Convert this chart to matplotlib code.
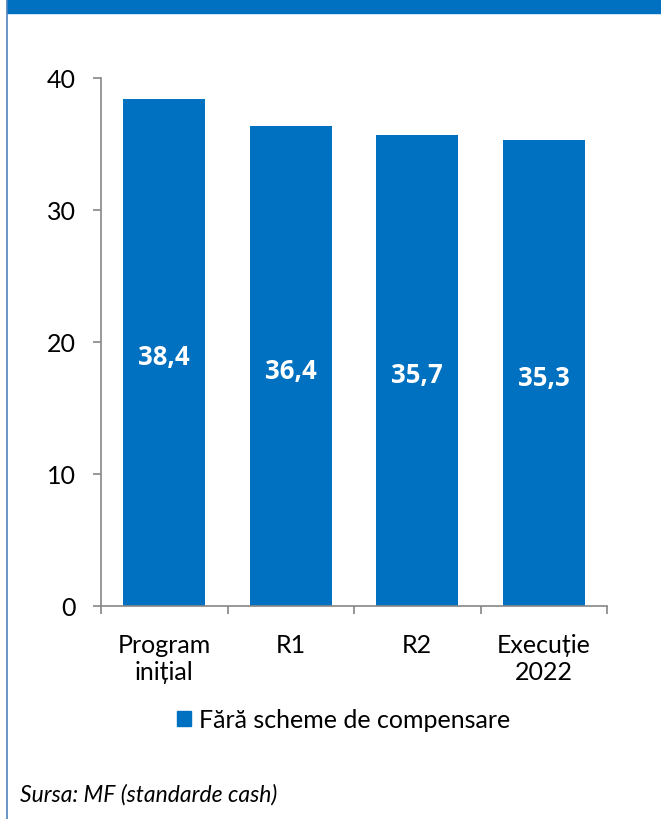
import matplotlib
matplotlib.use("Agg")
import matplotlib.pyplot as plt
from matplotlib.patches import Rectangle
from matplotlib.lines import Line2D

categories = ["Program\ninițial", "R1", "R2", "Execuție\n2022"]
values = [38.4, 36.4, 35.7, 35.3]
value_labels = ["38,4", "36,4", "35,7", "35,3"]
y_ticks = [0, 10, 20, 30, 40]
series_name = "Fără scheme de compensare"
source_text = "Sursa: MF (standarde cash)"

BLUE = "#0070C0"
GRAY = "#868686"
FONT = ["Lato", "DejaVu Sans"]
BOLD_FONT = ["Open Sans", "DejaVu Sans"]

W, H = 661, 819
fig = plt.figure(figsize=(W / 100, H / 100), dpi=100)

# header band and left frame line
fig.patches.append(Rectangle((7 / W, 1 - 13 / H), 1 - 7 / W, 13 / H,
                             transform=fig.transFigure, color=BLUE, zorder=0))
fig.lines.append(Line2D([6.5 / W, 6.5 / W], [0, 1], transform=fig.transFigure,
                        color="#4F81BD", lw=1.2))

x0, x1 = 101, 607
y0, y1 = 606, 78
ax = fig.add_axes([x0 / W, 1 - y0 / H, (x1 - x0) / W, (y0 - y1) / H])

pos = list(range(len(categories)))
ax.bar(pos, values, width=0.65, color=BLUE, zorder=2)
for p, v, lab in zip(pos, values, value_labels):
    ax.text(p, v / 2 - 0.4, lab, ha="center", va="center", color="white",
            fontsize=18.5, fontweight="bold", family=BOLD_FONT)

ax.set_xlim(-0.5, len(categories) - 0.5)
ax.set_ylim(0, 40)
ax.set_yticks(y_ticks)
ax.set_yticklabels([str(t) for t in y_ticks], family=FONT, fontsize=18)

# category boundaries carry the tick marks; labels sit at bar centres
ax.set_xticks([i - 0.5 for i in range(len(categories) + 1)])
ax.set_xticklabels([])
ax.set_xticks(pos, minor=True)
ax.set_xticklabels(categories, minor=True, family=FONT, fontsize=18,
                   linespacing=1.2)
ax.tick_params(axis="x", which="minor", length=0, pad=20)
ax.tick_params(axis="x", which="major", length=6, color=GRAY, width=1.2)
ax.tick_params(axis="y", length=6, color=GRAY, width=1.2, pad=12)

for side in ["top", "right"]:
    ax.spines[side].set_visible(False)
for side in ["left", "bottom"]:
    ax.spines[side].set_color(GRAY)
    ax.spines[side].set_linewidth(1.2)

handle = Rectangle((0, 0), 1, 1, color=BLUE)
fig.legend([handle], [series_name], loc="center", bbox_to_anchor=(0.52, 1 - 720 / H),
           frameon=False, prop={"family": FONT, "size": 18},
           handlelength=0.55, handleheight=0.55, handletextpad=0.3)

fig.text(20 / W, 1 - 795 / H, source_text, ha="left", va="center",
         family=FONT, fontsize=16.5, style="italic")

fig.savefig("out.png", dpi=100)
